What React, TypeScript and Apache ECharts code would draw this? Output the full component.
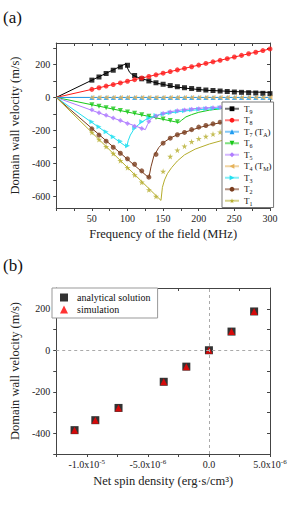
import React, { useEffect, useRef } from "react";
import * as echarts from "echarts";

const FONT = "Liberation Serif, Times New Roman, serif";

// ---------- Panel (a) data ----------
const simFreq = [50, 60, 70, 80, 90, 100, 110, 120, 130, 140, 150, 160, 170, 180, 190, 200, 210, 220, 230, 240, 250, 260, 270, 280, 290, 300];

const t9Theory = [[0, 0], [98, 205], [100, 178], [103, 152], [108, 134], [115, 121], [121, 113], [130, 101], [144, 84], [167, 64], [190, 52], [213, 43], [259, 34], [300, 31]];
const t9Sim = [105, 124, 145, 165, 185, 195, 133, 113, 100, 89, 80, 72, 65, 59, 54, 49, 45, 42, 39, 36, 33, 31, 29, 27, 25, 23];

const t8Theory = [[0, 0], [300, 294]];
const t8Sim = [49, 59, 69, 78, 88, 98, 108, 118, 127, 137, 147, 157, 167, 176, 186, 196, 206, 216, 225, 235, 245, 255, 265, 274, 284, 294];

const t7Theory = [[0, 0], [300, 0]];
const t7Sim = [0, 0, 0, 0, 0, 0, 0, 0, 0, 0, 0, 0, 0, 0, 0, 0, 0, 0, 0, 0, 0, 0, 0, 0, 0, 0];

const t6Theory = [[0, 0], [172, -152], [176, -138], [182, -118], [190, -104], [200, -90], [215, -77], [235, -66]];
const t6Sim = [-44, -53, -62, -70, -79, -88, -96, -105, -114, -122, -131, -140, -148];

const t5Theory = [[0, 0], [125, -195], [128, -165], [132, -135], [137, -118], [145, -103], [156, -89], [178, -74], [201, -65], [235, -57]];
const t5Sim = [-75, -92, -108, -124, -140, -158, -175, -188, -145, -112, -97, -88, -81, -76, -72, -68, -65, -62, -60];

const t4Theory = [[0, 0], [300, 0]];
const t4Sim = [0, 0, 0, 0, 0, 0, 0, 0, 0, 0, 0, 0, 0, 0, 0, 0, 0, 0, 0, 0, 0, 0, 0, 0, 0, 0];

const t3Theory = [[0, 0], [99, -300], [101, -262], [104, -228], [108, -200], [113, -175], [119, -152], [126, -133], [135, -117], [145, -105], [160, -93], [180, -82], [200, -74], [235, -64]];
const t3Sim = [-148, -178, -208, -238, -266, -292, -185, -148, -125, -110, -100, -92, -85, -80, -75, -71, -68, -65, -62];

const t2Theory = [[0, 0], [130, -487], [133, -420], [137, -355], [144, -303], [151, -272], [160, -246], [170, -226], [181, -210], [201, -182], [220, -162], [235, -150]];
const t2Sim = [-190, -228, -265, -302, -338, -372, -405, -445, -483, -345, -277, -247, -226, -212, -195, -180, -170, -160, -150];

const t1Theory = [[0, 0], [147, -624], [149, -545], [152, -500], [156, -462], [162, -425], [170, -385], [180, -348], [195, -313], [215, -282], [235, -258]];
const t1Sim = [-212, -255, -298, -340, -383, -426, -470, -514, -560, -600, -448, -358, -320, -295, -268, -250, -236, -222, -210];

const aXLabels = [50, 100, 150, 200, 250, 300];
const aXTicks = [0, 25, 50, 75, 100, 125, 150, 175, 200, 225, 250, 275, 300];
const aYLabels = [-600, -400, -200, 0, 200];
const aYTicks = [-600, -500, -400, -300, -200, -100, 0, 100, 200, 300];

// ---------- Panel (b) data ----------
const netSpin = [-1.1e-5, -9.3e-6, -7.4e-6, -3.7e-6, -1.85e-6, 0, 1.85e-6, 3.7e-6];
const analytical = [-385, -337, -278, -152, -79, 0, 90, 187];
const simulation = [-385, -337, -278, -152, -79, 0, 90, 187];

const bXLabels = [-1e-5, -5e-6, 0, 5e-6];
const bXLabelTexts = ["-1.0x10{sup|-5}", "-5.0x10{sup|-6}", "0.0", "5.0x10{sup|-6}"];
const bXTicks = [-1.25e-5, -1e-5, -7.5e-6, -5e-6, -2.5e-6, 0, 2.5e-6, 5e-6];
const bYLabels = [-400, -200, 0, 200];
const bYTicks = [-500, -400, -300, -200, -100, 0, 100, 200, 300];

const STAR = "path://M50,0 L61,35 L98,35 L68,57 L79,91 L50,70 L21,91 L32,57 L2,35 L39,35 Z";

const T9 = { name: "T9", color: "#000000", symbol: "rect", rotate: 0, theory: t9Theory, sim: t9Sim };
const T8 = { name: "T8", color: "#ff1a1a", symbol: "circle", rotate: 0, theory: t8Theory, sim: t8Sim };
const T7 = { name: "T7 (TA)", color: "#1f9cf0", symbol: "triangle", rotate: 0, theory: t7Theory, sim: t7Sim };
const T6 = { name: "T6", color: "#18c818", symbol: "triangle", rotate: 180, theory: t6Theory, sim: t6Sim };
const T5 = { name: "T5", color: "#b07cff", symbol: "diamond", rotate: 0, theory: t5Theory, sim: t5Sim };
const T4 = { name: "T4 (TM)", color: "#e6b35a", symbol: "triangle", rotate: 90, theory: t4Theory, sim: t4Sim };
const T3 = { name: "T3", color: "#22e0f0", symbol: "triangle", rotate: -90, theory: t3Theory, sim: t3Sim };
const T2 = { name: "T2", color: "#7a3d1e", symbol: "circle", rotate: 0, theory: t2Theory, sim: t2Sim };
const T1 = { name: "T1", color: "#b5ad2c", symbol: STAR, rotate: 0, theory: t1Theory, sim: t1Sim };

const lineOrder = [T9, T8, T4, T7, T6, T3, T5, T2, T1];
const markerOrder = [T9, T8, T7, T4, T6, T3, T5, T2, T1];
const legendOrder = ["T9", "T8", "T7 (TA)", "T6", "T5", "T4 (TM)", "T3", "T2", "T1"];

const axisLineStyle = { color: "#444", width: 1 };
const labelStyle = { fontSize: 10, color: "#222", fontFamily: FONT };
const nameStyle = { fontSize: 12.5, color: "#222", fontFamily: FONT };

function mirrorAxis(gridIndex: number, min: number, max: number, ticks: number[], position: string) {
  return {
    gridIndex, type: "value", min, max, position,
    axisLine: { show: true, onZero: false, lineStyle: axisLineStyle },
    axisTick: { show: true, inside: true, length: 3, customValues: ticks, lineStyle: axisLineStyle },
    axisLabel: { show: false },
    splitLine: { show: false },
  };
}

export default function App() {
  const ref = useRef<HTMLDivElement>(null);
  useEffect(() => {
    if (!ref.current) return;
    const chart = echarts.init(ref.current, null, { renderer: "svg" });

    const series: any[] = [];
    lineOrder.forEach((s) => {
      series.push({
        type: "line", name: s.name, xAxisIndex: 0, yAxisIndex: 0,
        data: s.theory, showSymbol: false, symbol: s.symbol, symbolRotate: s.rotate,
        lineStyle: { color: s.color, width: 1 }, itemStyle: { color: s.color },
        z: 2, silent: true,
      });
    });
    markerOrder.forEach((s) => {
      series.push({
        type: "scatter", name: s.name + " sim", xAxisIndex: 0, yAxisIndex: 0,
        data: s.sim.map((v, i) => [simFreq[i], v]),
        symbol: s.symbol, symbolRotate: s.rotate, symbolSize: s.symbol === STAR ? 6 : 5,
        itemStyle: { color: s.color }, z: 3, silent: true,
      });
    });
    series.push({
      type: "line", name: "zero", xAxisIndex: 2, yAxisIndex: 2, data: [], z: 1, silent: true,
      markLine: {
        silent: true, symbol: ["none", "none"], label: { show: false },
        lineStyle: { type: [3, 3], color: "#aaa", width: 1 },
        data: [{ xAxis: 0 }, { yAxis: 0 }],
      },
    });
    series.push({
      type: "scatter", name: "analytical solution", xAxisIndex: 2, yAxisIndex: 2,
      data: netSpin.map((x, i) => [x, analytical[i]]), symbol: "rect", symbolSize: 8,
      itemStyle: { color: "#000" }, z: 3, silent: true,
    });
    series.push({
      type: "scatter", name: "simulation", xAxisIndex: 2, yAxisIndex: 2,
      data: netSpin.map((x, i) => [x, simulation[i]]), symbol: "triangle", symbolSize: 7,
      itemStyle: { color: "#ff0000" }, z: 4, silent: true,
    });

    const option: any = {
      animation: false,
      backgroundColor: "#fff",
      textStyle: { fontFamily: FONT },
      grid: [
        { left: 52, top: 43, width: 218, height: 165 },
        { left: 52, top: 288, width: 218, height: 166 },
      ],
      xAxis: [
        {
          gridIndex: 0, type: "value", min: 0, max: 300, position: "bottom",
          axisLine: { show: true, onZero: false, lineStyle: axisLineStyle },
          axisTick: { show: true, length: 3, customValues: aXTicks, lineStyle: axisLineStyle },
          axisLabel: { ...labelStyle, customValues: aXLabels, margin: 5 },
          splitLine: { show: false },
          name: "Frequency of the field (MHz)", nameLocation: "middle", nameGap: 19, nameTextStyle: nameStyle,
        },
        mirrorAxis(0, 0, 300, aXTicks, "top"),
        {
          gridIndex: 1, type: "value", min: -1.25e-5, max: 5e-6, position: "bottom",
          axisLine: { show: true, onZero: false, lineStyle: axisLineStyle },
          axisTick: { show: true, length: 3, customValues: bXTicks, lineStyle: axisLineStyle },
          axisLabel: {
            ...labelStyle, customValues: bXLabels, margin: 4, lineHeight: 13,
            formatter: (v: number) => {
              let best = 0;
              bXLabels.forEach((lv, i) => { if (Math.abs(lv - v) < Math.abs(bXLabels[best] - v)) best = i; });
              return bXLabelTexts[best];
            },
            rich: { sup: { fontSize: 7, fontFamily: FONT, color: "#222", verticalAlign: "top", lineHeight: 13 } },
          },
          splitLine: { show: false },
          name: "Net spin density (erg·s/cm³)", nameLocation: "middle", nameGap: 20, nameTextStyle: nameStyle,
        },
        mirrorAxis(1, -1.25e-5, 5e-6, bXTicks, "top"),
      ],
      yAxis: [
        {
          gridIndex: 0, type: "value", min: -670, max: 330, position: "left",
          axisLine: { show: true, onZero: false, lineStyle: axisLineStyle },
          axisTick: { show: true, length: 3, customValues: aYTicks, lineStyle: axisLineStyle },
          axisLabel: { ...labelStyle, customValues: aYLabels, margin: 6 },
          splitLine: { show: false },
          name: "Domain wall velocity (m/s)", nameLocation: "middle", nameGap: 30, nameTextStyle: nameStyle,
        },
        mirrorAxis(0, -670, 330, aYTicks, "right"),
        {
          gridIndex: 1, type: "value", min: -500, max: 300, position: "left",
          axisLine: { show: true, onZero: false, lineStyle: axisLineStyle },
          axisTick: { show: true, length: 3, customValues: bYTicks, lineStyle: axisLineStyle },
          axisLabel: { ...labelStyle, customValues: bYLabels, margin: 6 },
          splitLine: { show: false },
          name: "Domain wall velocity (m/s)", nameLocation: "middle", nameGap: 30, nameTextStyle: nameStyle,
        },
        mirrorAxis(1, -500, 300, bYTicks, "right"),
      ],
      legend: [
        {
          orient: "vertical", left: 222, top: 102, padding: [1, 2, 1, 2],
          itemWidth: 14, itemHeight: 6, itemGap: 0,
          backgroundColor: "#fff", borderColor: "#777", borderWidth: 1,
          selectedMode: false, data: legendOrder,
          lineStyle: { width: 2, opacity: 0.55 },
          formatter: (name: string) => name.replace(/T([0-9A-Z])/g, "T{s|$1}"),
          textStyle: {
            fontSize: 9, color: "#111", fontFamily: FONT, lineHeight: 11.5,
            rich: { s: { fontSize: 6, fontFamily: FONT, color: "#111", verticalAlign: "bottom", lineHeight: 11.5 } },
          },
        },
        {
          orient: "vertical", left: 52, top: 288, padding: [4, 7, 3, 8],
          itemWidth: 8, itemHeight: 8, itemGap: 1,
          backgroundColor: "#fff", borderColor: "#999", borderWidth: 1,
          selectedMode: false, data: ["analytical solution", "simulation"],
          textStyle: { fontSize: 10, color: "#111", fontFamily: FONT, lineHeight: 11, padding: [0, 0, 0, 4] },
        },
      ],
      graphic: [
        { type: "text", left: 3, top: 9, style: { text: "(a)", font: "17px Liberation Serif, serif", fill: "#111" } },
        { type: "text", left: 3, top: 257, style: { text: "(b)", font: "17px Liberation Serif, serif", fill: "#111" } },
      ],
      series,
    };
    chart.setOption(option);
    return () => chart.dispose();
  }, []);
  return <div ref={ref} style={{ position: "absolute", left: 0, top: 0, width: 291, height: 509 }} />;
}
